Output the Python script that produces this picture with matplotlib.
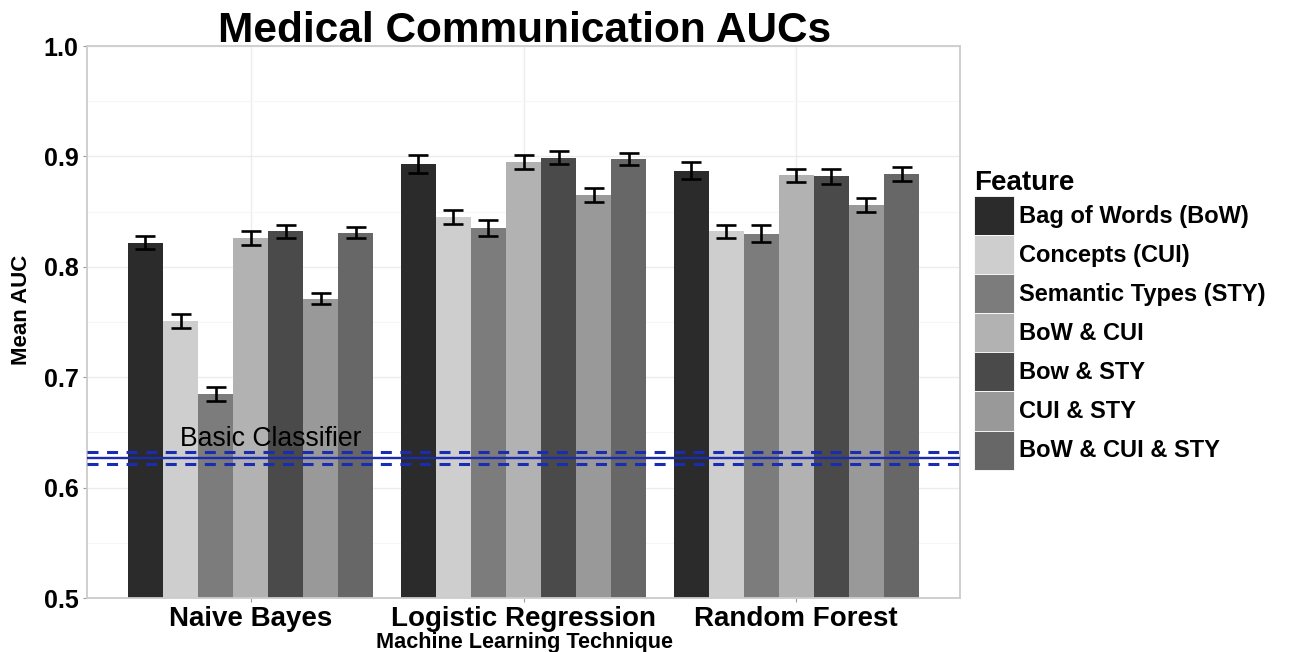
import matplotlib
matplotlib.use("Agg")
import matplotlib.pyplot as plt
from matplotlib.patches import Patch
import numpy as np

plt.rcParams['font.family'] = ['Liberation Sans', 'DejaVu Sans']

# Mean AUC per technique and feature set, with error bar bounds
techniques = ['Naive Bayes', 'Logistic Regression', 'Random Forest']
features = ['Bag of Words (BoW)', 'Concepts (CUI)', 'Semantic Types (STY)',
            'BoW & CUI', 'Bow & STY', 'CUI & STY', 'BoW & CUI & STY']
colors = ['#2b2b2b', '#cecece', '#7c7c7c', '#b2b2b2', '#4a4a4a', '#999999', '#676767']

auc_nb = [0.822, 0.751, 0.685, 0.826, 0.832, 0.771, 0.831]
auc_lr = [0.893, 0.845, 0.835, 0.895, 0.899, 0.865, 0.898]
auc_rf = [0.887, 0.832, 0.830, 0.883, 0.882, 0.856, 0.884]
err_nb = [0.006, 0.006, 0.0065, 0.0065, 0.0055, 0.005, 0.005]
err_lr = [0.008, 0.006, 0.007, 0.0065, 0.006, 0.006, 0.0055]
err_rf = [0.0075, 0.006, 0.0075, 0.006, 0.007, 0.0065, 0.0065]

baseline = 0.627
baseline_band = 0.0055

fig = plt.figure(figsize=(13.14, 6.52), dpi=100)
W, H = 1314, 652
ax = fig.add_axes([87 / W, 1 - 598 / H, (960 - 87) / W, (598 - 46) / H])

aucs = np.array([auc_nb, auc_lr, auc_rf])
errs = np.array([err_nb, err_lr, err_rf])
n = len(features)
width = 0.9 / n
centers = np.arange(1, len(techniques) + 1)

ax.grid(True, which='major', color='#ececec', lw=1.0, zorder=0)
ax.grid(True, which='minor', axis='y', color='#f6f6f6', lw=0.8, zorder=0)
ax.set_axisbelow(True)

for j in range(n):
    xs = centers - 0.45 + width * (j + 0.5)
    ax.bar(xs, aucs[:, j] - 0.5, width, bottom=0.5, color=colors[j], zorder=2)
    ax.errorbar(xs, aucs[:, j], yerr=errs[:, j], fmt='none', ecolor='black',
                elinewidth=1.9, capsize=7.5, capthick=1.9, zorder=3)

ax.axhline(baseline, color='#1a2cb0', lw=1.7, zorder=4)
for off in (-baseline_band, baseline_band):
    ax.axhline(baseline + off, color='#1a2cb0', lw=2.2, dashes=(3.6, 2.8), zorder=4)
ax.text(1.075, baseline + 0.0105, 'Basic Classifier', ha='center', va='baseline',
        fontsize=19.2, color='black', zorder=5)

ax.set_xlim(0.4, 3.6)
ax.set_ylim(0.5, 1.0)
ax.set_xticks(centers)
ax.set_xticklabels(techniques, fontsize=20, fontweight='bold')
ax.set_yticks([0.5, 0.6, 0.7, 0.8, 0.9, 1.0])
ax.set_yticklabels(['0.5', '0.6', '0.7', '0.8', '0.9', '1.0'], fontsize=18, fontweight='bold')
ax.set_yticks(np.arange(0.55, 1.0, 0.1), minor=True)
ax.tick_params(axis='y', which='minor', length=0)
ax.tick_params(axis='both', which='major', length=3, color='#9a9a9a', pad=3)
ax.tick_params(axis='x', which='major', pad=2.5)
for s in ax.spines.values():
    s.set_color('#cccccc')
    s.set_linewidth(1.3)

fig.text(525 / W, 1 - 42 / H, 'Medical Communication AUCs', ha='center', va='baseline',
         fontsize=30.5, fontweight='bold')
fig.text(524 / W, 1 - 648 / H, 'Machine Learning Technique', ha='center', va='baseline',
         fontsize=15.6, fontweight='bold')
fig.text(22 / W, 1 - 310 / H, 'Mean AUC', ha='center', va='center', rotation=90,
         fontsize=16, fontweight='bold')

handles = [Patch(facecolor=c, edgecolor='white', linewidth=0.6) for c in colors]
leg = fig.legend(handles, features, loc='upper left',
                 bbox_to_anchor=(974 / W, 1 - 170 / H), frameon=False,
                 prop={'size': 17, 'weight': 'bold'}, title='Feature',
                 title_fontproperties={'size': 20, 'weight': 'bold'},
                 handlelength=1.7, handleheight=2.17, labelspacing=0.0,
                 handletextpad=0.2, borderpad=0, borderaxespad=0, alignment='left')

fig.savefig('out.png', dpi=100)
